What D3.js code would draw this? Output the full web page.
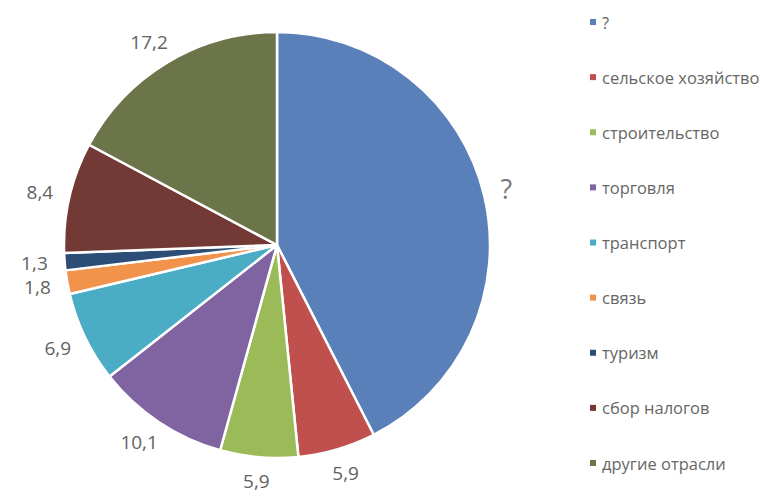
<!DOCTYPE html>
<html><head><meta charset="utf-8">
<script src="https://cdn.jsdelivr.net/npm/d3@7"></script>
<style>body{margin:0;background:#fff}svg{display:block}</style>
</head><body>
<svg id="c" width="780" height="499"></svg>
<script>
const categories = ["?", "сельское хозяйство", "строительство", "торговля", "транспорт", "связь", "туризм", "сбор налогов", "другие отрасли"];
const values = [42.5, 5.9, 5.9, 10.1, 6.9, 1.8, 1.3, 8.4, 17.2];
const labels = ["?", "5,9", "5,9", "10,1", "6,9", "1,8", "1,3", "8,4", "17,2"];
const colors = ["#5A80BA", "#C0504D", "#9BBB59", "#8064A2", "#4BACC6", "#F2934B", "#2C4D75", "#733A35", "#6B7549"];

const svg = d3.select("#c");
const cx = 277, cy = 245, r = 213;
const data = categories.map((c, i) => ({cat: c, value: values[i], label: labels[i], color: colors[i]}));
const pie = d3.pie().value(d => d.value).sort(null);
const arcs = pie(data);
const arc = d3.arc().innerRadius(0).outerRadius(r);
const g = svg.append("g").attr("transform", `translate(${cx},${cy})`);
g.selectAll("path").data(arcs).join("path")
  .attr("d", arc).attr("fill", d => d.data.color)
  .attr("stroke", "#fff").attr("stroke-width", 2.5).attr("stroke-linejoin", "round");

const placed = [];
g.selectAll("text.lbl").data(arcs).join("text").attr("class", "lbl")
  .each(function(d) {
    const a = (d.startAngle + d.endAngle) / 2;
    const s = Math.sin(a), c = Math.cos(a);
    const big = d.data.label === "?";
    const fs = big ? 27 : 19;
    const t = d3.select(this).text(d.data.label)
      .attr("font-family", "'Open Sans', sans-serif").attr("font-size", fs)
      .attr("fill", big ? "#7a7a7a" : "#626262")
      .attr("text-anchor", "middle").attr("dominant-baseline", "central");
    const w = this.getComputedTextLength(), h = fs * 0.75;
    const R = r + 17;
    const x = R * s + (w / 2) * s;
    let y = -R * c - (h / 2) * c;
    placed.push({node: this, x, y, w, fs});
  });
// resolve vertical collisions of neighbouring small labels
for (let i = 1; i < placed.length; i++) {
  const p = placed[i - 1], q = placed[i];
  if (Math.abs(p.x - q.x) < (p.w + q.w) / 2 && Math.abs(p.y - q.y) < 24) {
    const mid = (p.y + q.y) / 2, dir = q.y < p.y ? -1 : 1;
    p.y = mid - dir * 12; q.y = mid + dir * 12;
  }
}
placed.forEach(p => d3.select(p.node).attr("x", p.x).attr("y", p.y));

const leg = svg.append("g");
const ly = d3.scalePoint().domain(categories).range([22, 463]);
const items = leg.selectAll("g").data(data).join("g")
  .attr("transform", d => `translate(590,${ly(d.cat)})`);
items.append("rect").attr("x", 0).attr("y", -3).attr("width", 6).attr("height", 6).attr("fill", d => d.color);
items.append("text").attr("x", 12).attr("y", 0).attr("dominant-baseline", "central")
  .attr("font-family", "'Open Sans', sans-serif").attr("font-size", 16.5).attr("fill", "#666")
  .text(d => d.cat);
</script>
</body></html>
